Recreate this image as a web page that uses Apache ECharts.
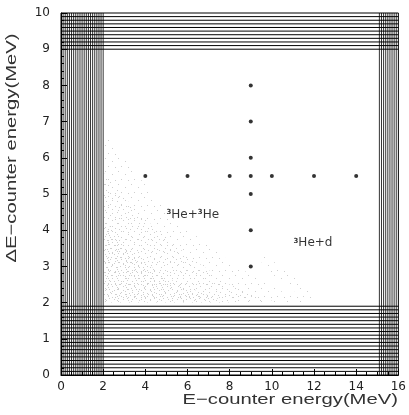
<!DOCTYPE html>
<html>
<head>
<meta charset="utf-8">
<script src="https://cdn.jsdelivr.net/npm/echarts@6/dist/echarts.min.js"></script>
<style>
  html, body { margin: 0; padding: 0; background: #fff; }
  #chart { width: 409px; height: 415px; }
</style>
</head>
<body>
<div id="chart"></div>
<script>
// measured points: a row at dE = 5.5 and a column at E = 9
var rowY = 5.5;
var rowX = [4, 6, 8, 9, 10, 12, 14];
var colX = 9;
var colY = [3, 4, 5, 6, 7, 8];

// dense line bands (positions in MeV)
var hLines = [0.1, 0.2, 0.3, 0.4, 0.5, 0.6, 0.7, 0.8, 0.9, 1.0,
  1.1, 1.2, 1.3, 1.4, 1.5, 1.6, 1.7, 1.8, 1.9,
  9.0, 9.1, 9.2, 9.3, 9.4, 9.5, 9.6, 9.7, 9.8, 9.9];
var vLines = [0.1, 0.2, 0.3, 0.4, 0.5, 0.6, 0.7, 0.8, 0.9, 1.0,
  1.1, 1.2, 1.3, 1.4, 1.5, 1.6, 1.7, 1.8, 1.9, 2.0,
  15.1, 15.2, 15.3, 15.4, 15.5, 15.6, 15.7, 15.8, 15.9];

// faint event cloud, outlines
var cloudOuter = [[2, 2], [2, 6.7], [2.6, 6.3], [3.5, 5.6], [4.5, 4.9], [5.5, 4.3],
  [6.5, 3.8], [7.5, 3.35], [8.5, 2.95], [9.5, 2.6], [10.5, 2.3], [11.5, 2.1], [12, 2]];
var cloudMid = [[2, 2], [2, 5.6], [3, 4.9], [4, 4.3], [5, 3.8], [6, 3.3],
  [7, 2.9], [8, 2.5], [9, 2.25], [10, 2.05], [10.4, 2]];
var cloudInner = [[2, 2], [2, 4.3], [3, 3.6], [4, 3.1], [5, 2.7], [6, 2.4], [7, 2.2], [8, 2]];
var cloudTail = [[9.6, 3.3], [10.3, 3.05], [11.2, 2.65], [12.0, 2.2], [11.9, 2.0],
  [11.0, 2.35], [10.2, 2.7], [9.5, 3.05]];

// reaction labels
var labelX = [6.25, 11.95];
var labelY = [4.42, 3.64];
var labelText = ['{s|3}He+{s|3}He', '{s|3}He+d'];

var font = 'DejaVu Sans';

// small stipple tiles for the dotted cloud
function stipple(size, dots) {
  var c = document.createElement('canvas');
  c.width = c.height = size;
  var ctx = c.getContext('2d');
  ctx.fillStyle = '#cfcfcf';
  dots.forEach(function (d) { ctx.fillRect(d[0], d[1], 1, 1); });
  return { image: c, repeat: 'repeat' };
}
var sparse = stipple(13, [[1, 2], [8, 5], [4, 10], [11, 11]]);
var medium = stipple(11, [[2, 0], [7, 3], [0, 6], [5, 8], [9, 9]]);
var dense = stipple(9, [[1, 1], [6, 2], [3, 5], [8, 6], [0, 8]]);

var points = rowX.map(function (x) { return [x, rowY]; })
  .concat(colY.map(function (y) { return [colX, y]; }));

function areaSeries(pts, fill) {
  return {
    type: 'custom',
    silent: true,
    z: 1,
    data: [pts[0]],
    renderItem: function (params, api) {
      return {
        type: 'polygon',
        shape: { points: pts.map(function (p) { return api.coord(p); }) },
        style: { fill: fill }
      };
    }
  };
}

function lineSeries(list, horizontal, width) {
  return {
    type: 'custom',
    silent: true,
    z: 3,
    data: list.map(function (v) { return horizontal ? [0, v] : [v, 0]; }),
    renderItem: function (params, api) {
      var a, b;
      if (horizontal) {
        a = api.coord([0, api.value(1)]);
        b = api.coord([16, api.value(1)]);
      } else {
        a = api.coord([api.value(0), 0]);
        b = api.coord([api.value(0), 10]);
      }
      return {
        type: 'line',
        shape: { x1: a[0], y1: a[1], x2: b[0], y2: b[1] },
        style: { stroke: '#000', lineWidth: width }
      };
    }
  };
}

var chart = echarts.init(document.getElementById('chart'));

chart.setOption({
  animation: false,
  backgroundColor: '#fff',
  grid: {
    left: 61, right: 7, top: 13, bottom: 40,
    show: true, borderColor: '#000', borderWidth: 1
  },
  xAxis: {
    type: 'value', min: 0, max: 16, interval: 2,
    axisLine: { lineStyle: { color: '#000' } },
    axisTick: { inside: true, length: 6, lineStyle: { color: '#000' } },
    minorTick: { show: true, splitNumber: 4, length: 3, lineStyle: { color: '#000' } },
    splitLine: { show: false },
    axisLabel: { fontFamily: font, fontSize: 12, color: '#222', margin: 6 }
  },
  yAxis: {
    type: 'value', min: 0, max: 10, interval: 1,
    axisLine: { lineStyle: { color: '#000' } },
    axisTick: { inside: true, length: 6, lineStyle: { color: '#000' } },
    minorTick: { show: true, splitNumber: 5, length: 3, lineStyle: { color: '#000' } },
    splitLine: { show: false },
    axisLabel: { fontFamily: font, fontSize: 12, color: '#222', margin: 11 }
  },
  graphic: [
    {
      type: 'text', x: 398, y: 400, scaleX: 1.35,
      style: {
        text: 'E\u2212counter energy(MeV)', fontFamily: 'Liberation Sans', fontSize: 15,
        fill: '#333', align: 'right', verticalAlign: 'middle'
      }
    },
    {
      type: 'text', x: 12, y: 148, rotation: Math.PI / 2, scaleX: 1.35,
      style: {
        text: '\u0394E\u2212counter energy(MeV)', fontFamily: 'Liberation Sans', fontSize: 15,
        fill: '#333', align: 'center', verticalAlign: 'middle'
      }
    }
  ],
  series: [
    areaSeries(cloudOuter, sparse),
    areaSeries(cloudMid, medium),
    areaSeries(cloudInner, dense),
    areaSeries(cloudTail, sparse),
    lineSeries(hLines, true, 1),
    lineSeries(vLines, false, 0.8),
    {
      type: 'scatter',
      z: 5,
      symbolSize: 4,
      itemStyle: { color: '#000' },
      data: points
    },
    {
      type: 'scatter',
      z: 6,
      symbolSize: 0,
      silent: true,
      data: labelX.map(function (x, i) {
        return { value: [x, labelY[i]], label: { formatter: labelText[i] } };
      }),
      label: {
        show: true, position: 'inside', color: '#000',
        fontFamily: font, fontSize: 12,
        rich: {
          s: { fontFamily: font, fontSize: 7, fontWeight: 'bold', verticalAlign: 'top', lineHeight: 10, color: '#000' }
        }
      }
    }
  ]
});
</script>
</body>
</html>
